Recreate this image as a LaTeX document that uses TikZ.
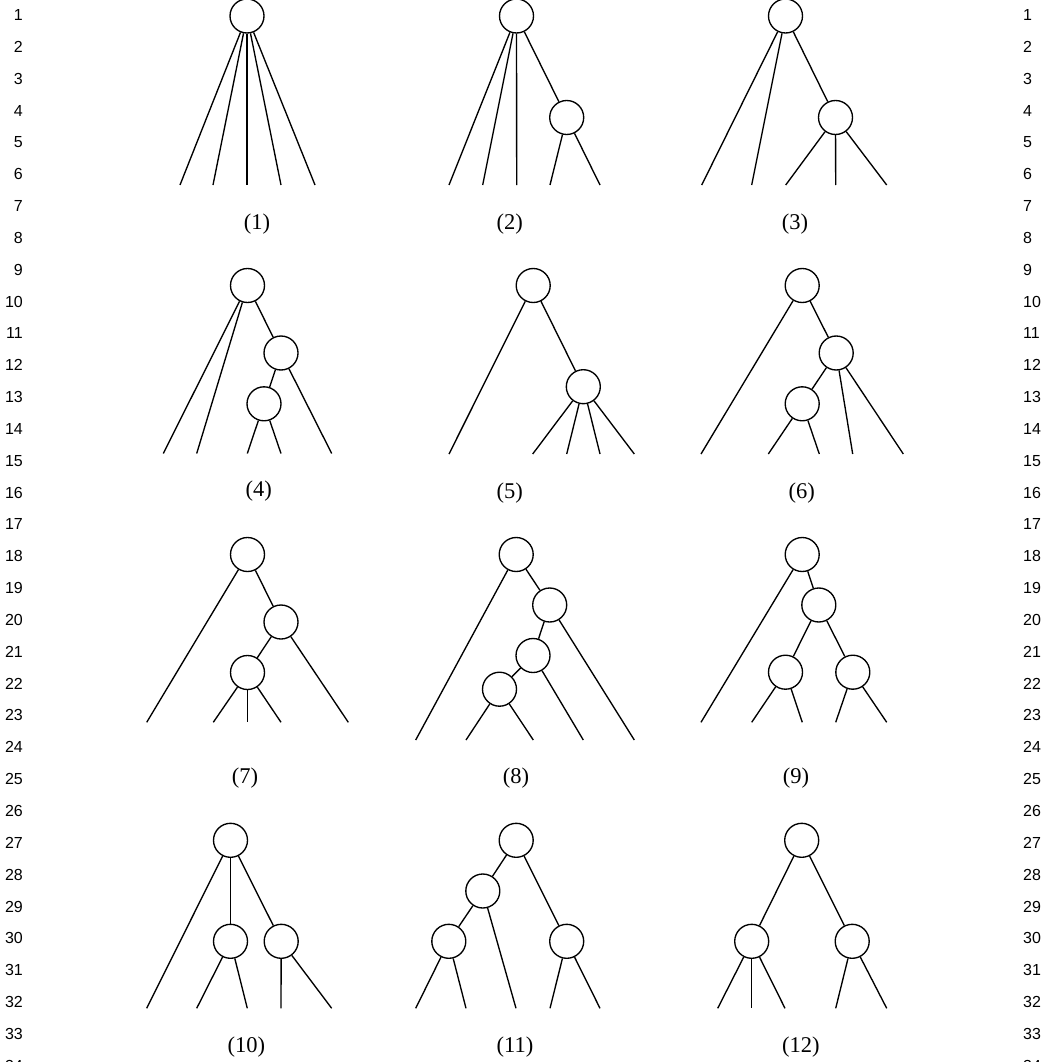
\documentclass[tikz,border=0pt]{standalone}
\usepackage{fontspec}
\setmainfont{Liberation Serif}
\newfontfamily\numfont{Liberation Sans}
\usepackage{tikz}
\usetikzlibrary{positioning}
\tikzset{
    tree_node/.style={
        circle, draw=black, line width=1.35pt, fill=white,
        minimum size=34pt, inner sep=0pt
    },
    branch/.style={
        draw=black, line width=1.35pt
    },
    fig_lbl/.style={
        font=\fontsize{22.5}{26}\selectfont, inner sep=0pt
    },
    line_no/.style={
        font=\numfont\fontsize{16}{18}\selectfont, inner sep=0pt
    }
}

\begin{document}
\begin{tikzpicture}[x=1pt, y=-1pt]

    \useasboundingbox (0,0) rectangle (1050,1062);

    % Margin line numbers
    \foreach \n in {1,...,34} {
        \node[line_no, anchor=east] (ln_l\n) at (23, {15+(\n-1)*31.84}) {\n};
        \node[line_no, anchor=west] (ln_r\n) at (1023, {15+(\n-1)*31.84}) {\n};
    }

    % Row 1
    % (1) root with five leaves
    \node[tree_node] (t1_root) at (247,16) {};
    \foreach \p/\lx [count=\i] in {root/180, root/213, root/247, root/281, root/315} {
        \coordinate (t1_l\i) at (\lx,185);
        \draw[branch] (t1_\p) -- (t1_l\i);
    }
    \node[fig_lbl] (cap1) at (257,224) {(1)};

    % (2)
    \node[tree_node] (t2_root) at (516.5,16) {};
    \node[tree_node] (t2_a) at (566.7,117.5) {};
    \draw[branch] (t2_root) -- (t2_a);
    \foreach \p/\lx [count=\i] in {root/449, root/482.7, root/516.7, a/550, a/600} {
        \coordinate (t2_l\i) at (\lx,185);
        \draw[branch] (t2_\p) -- (t2_l\i);
    }
    \node[fig_lbl] (cap2) at (509.7,224) {(2)};

    % (3)
    \node[tree_node] (t3_root) at (785.5,16) {};
    \node[tree_node] (t3_a) at (835.5,117.5) {};
    \draw[branch] (t3_root) -- (t3_a);
    \foreach \p/\lx [count=\i] in {root/701.7, root/751.7, a/785.7, a/835.7, a/886.7} {
        \coordinate (t3_l\i) at (\lx,185);
        \draw[branch] (t3_\p) -- (t3_l\i);
    }
    \node[fig_lbl] (cap3) at (795,224) {(3)};

    % Row 2
    % (4)
    \node[tree_node] (t4_root) at (247.5,285.5) {};
    \node[tree_node] (t4_a) at (281,353) {};
    \node[tree_node] (t4_b) at (264,403.8) {};
    \draw[branch] (t4_root) -- (t4_a);
    \draw[branch] (t4_a) -- (t4_b);
    \foreach \p/\lx [count=\i] in {root/163.3, root/196.7, b/247.3, b/281, a/331.7} {
        \coordinate (t4_l\i) at (\lx,453.5);
        \draw[branch] (t4_\p) -- (t4_l\i);
    }
    \node[fig_lbl] (cap4) at (258.7,491) {(4)};

    % (5)
    \node[tree_node] (t5_root) at (533.2,285.5) {};
    \node[tree_node] (t5_a) at (583.3,386.7) {};
    \draw[branch] (t5_root) -- (t5_a);
    \foreach \p/\lx [count=\i] in {root/449, a/532.7, a/566.7, a/600, a/634.3} {
        \coordinate (t5_l\i) at (\lx,454);
        \draw[branch] (t5_\p) -- (t5_l\i);
    }
    \node[fig_lbl] (cap5) at (509.7,493) {(5)};

    % (6)
    \node[tree_node] (t6_root) at (802.2,285.5) {};
    \node[tree_node] (t6_a) at (836.2,353) {};
    \node[tree_node] (t6_b) at (802.2,403.8) {};
    \draw[branch] (t6_root) -- (t6_a);
    \draw[branch] (t6_a) -- (t6_b);
    \foreach \p/\lx [count=\i] in {root/701, b/768.3, b/819.3, a/852.7, a/903.3} {
        \coordinate (t6_l\i) at (\lx,454);
        \draw[branch] (t6_\p) -- (t6_l\i);
    }
    \node[fig_lbl] (cap6) at (801.7,493) {(6)};

    % Row 3
    % (7)
    \node[tree_node] (t7_root) at (247.5,554.5) {};
    \node[tree_node] (t7_a) at (281,622) {};
    \node[tree_node] (t7_b) at (247.5,672.5) {};
    \draw[branch] (t7_root) -- (t7_a);
    \draw[branch] (t7_a) -- (t7_b);
    \foreach \p/\lx [count=\i] in {root/146.7, b/213.3, b/247.5, b/281, a/348.3} {
        \coordinate (t7_l\i) at (\lx,722.3);
        \draw[branch] (t7_\p) -- (t7_l\i);
    }
    \node[fig_lbl] (cap7) at (245,778) {(7)};

    % (8)
    \node[tree_node] (t8_root) at (516.2,554.5) {};
    \node[tree_node] (t8_a) at (549.7,605) {};
    \node[tree_node] (t8_b) at (533,655.5) {};
    \node[tree_node] (t8_c) at (499.5,689.2) {};
    \draw[branch] (t8_root) -- (t8_a);
    \draw[branch] (t8_a) -- (t8_b);
    \draw[branch] (t8_b) -- (t8_c);
    \foreach \p/\lx [count=\i] in {root/415.7, c/466, c/533.3, b/583.3, a/634.3} {
        \coordinate (t8_l\i) at (\lx,740);
        \draw[branch] (t8_\p) -- (t8_l\i);
    }
    \node[fig_lbl] (cap8) at (516,778) {(8)};

    % (9)
    \node[tree_node] (t9_root) at (802.2,554.5) {};
    \node[tree_node] (t9_a) at (818.8,605) {};
    \node[tree_node] (t9_b) at (785.5,672.2) {};
    \node[tree_node] (t9_c) at (852.8,672.2) {};
    \draw[branch] (t9_root) -- (t9_a);
    \draw[branch] (t9_a) -- (t9_b);
    \draw[branch] (t9_a) -- (t9_c);
    \foreach \p/\lx [count=\i] in {root/701, b/751.7, b/802.3, c/835.7, c/886.7} {
        \coordinate (t9_l\i) at (\lx,722.3);
        \draw[branch] (t9_\p) -- (t9_l\i);
    }
    \node[fig_lbl] (cap9) at (796,778) {(9)};

    % Row 4
    % (10)
    \node[tree_node] (t10_root) at (230.5,840.3) {};
    \node[tree_node] (t10_a) at (230.5,941.3) {};
    \node[tree_node] (t10_b) at (281.2,941.3) {};
    \draw[branch] (t10_root) -- (t10_a);
    \draw[branch] (t10_root) -- (t10_b);
    \foreach \p/\lx [count=\i] in {root/146.7, a/196.7, a/247.3, b/281, b/331.7} {
        \coordinate (t10_l\i) at (\lx,1008.3);
        \draw[branch] (t10_\p) -- (t10_l\i);
    }
    \node[fig_lbl] (cap10) at (246.3,1047) {(10)};

    % (11)
    \node[tree_node] (t11_root) at (516.2,840.3) {};
    \node[tree_node] (t11_a) at (482.8,891) {};
    \node[tree_node] (t11_b) at (448.8,941.3) {};
    \node[tree_node] (t11_c) at (566.7,941.3) {};
    \draw[branch] (t11_root) -- (t11_a);
    \draw[branch] (t11_a) -- (t11_b);
    \draw[branch] (t11_root) -- (t11_c);
    \foreach \p/\lx [count=\i] in {b/415.7, b/466, a/516, c/550, c/600} {
        \coordinate (t11_l\i) at (\lx,1008.3);
        \draw[branch] (t11_\p) -- (t11_l\i);
    }
    \node[fig_lbl] (cap11) at (515,1047) {(11)};

    % (12)
    \node[tree_node] (t12_root) at (801.7,840.3) {};
    \node[tree_node] (t12_a) at (751.7,941.3) {};
    \node[tree_node] (t12_b) at (852.2,941.3) {};
    \draw[branch] (t12_root) -- (t12_a);
    \draw[branch] (t12_root) -- (t12_b);
    \foreach \p/\lx [count=\i] in {a/717.7, a/751.7, a/785, b/835.7, b/886.7} {
        \coordinate (t12_l\i) at (\lx,1008.3);
        \draw[branch] (t12_\p) -- (t12_l\i);
    }
    \node[fig_lbl] (cap12) at (800.8,1047) {(12)};

\end{tikzpicture}
\end{document}
